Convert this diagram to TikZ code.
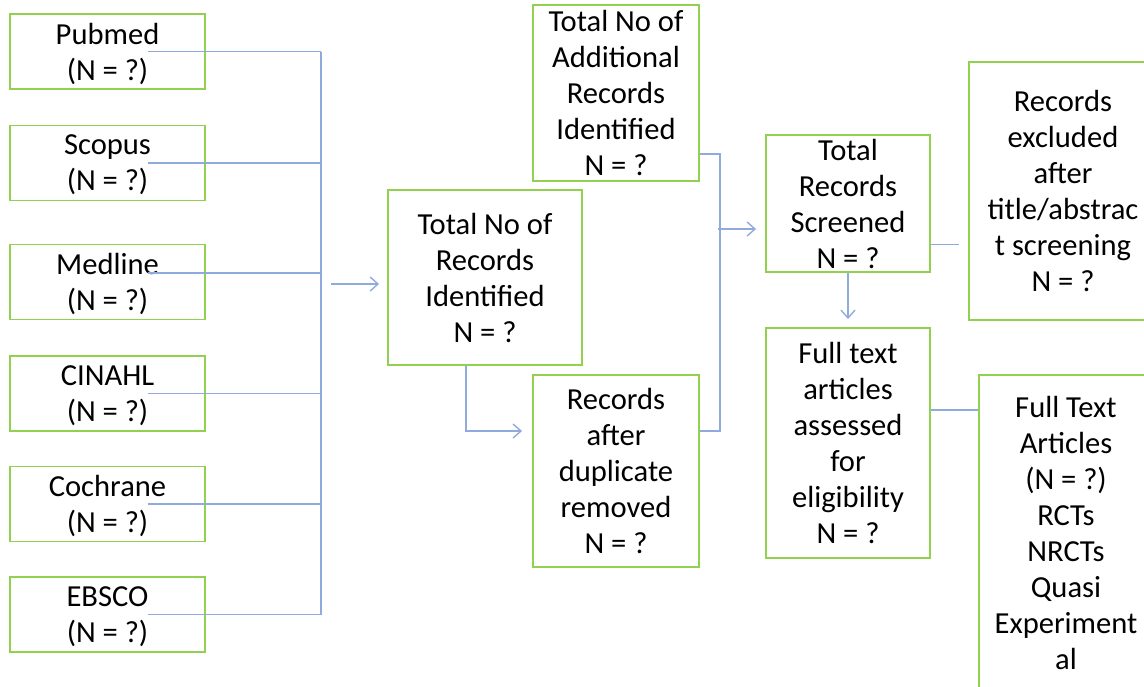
\documentclass[tikz,border=0pt]{standalone}
\usepackage{fontspec}
\setmainfont{Carlito}
\usetikzlibrary{arrows.meta,calc}
\definecolor{boxgreen}{RGB}{146,208,80}
\definecolor{linkblue}{RGB}{143,170,220}
\begin{document}
\begin{tikzpicture}[x=0.02cm, y=-0.02cm,
  box/.style={draw=boxgreen, line width=1.1pt, align=center, inner sep=0pt,
    font=\fontsize{17.4}{20.5}\selectfont, text depth=-4.4pt},
  srcbox/.style={box, minimum width=3.9cm, minimum height=1.5cm, text depth=-0.6pt},
  link/.style={draw=linkblue, line width=0.8pt},
  arrow/.style={link, -{Straight Barb[length=4.5pt,width=8pt]}}]
  \useasboundingbox (0,0) rectangle (1144,687);

  % databases
  \node[srcbox] (pubmed)   at (107.5,51.5)  {Pubmed\\(N = ?)};
  \node[srcbox] (scopus)   at (107.5,163)   {Scopus\\(N = ?)};
  \node[srcbox] (medline)  at (107.5,282)   {Medline\\(N = ?)};
  \node[srcbox] (cinahl)   at (107.5,393.5) {CINAHL\\(N = ?)};
  \node[srcbox] (cochrane) at (107.5,504)   {Cochrane\\(N = ?)};
  \node[srcbox] (ebsco)    at (107.5,614.5) {EBSCO\\(N = ?)};

  % identification
  \node[box, minimum width=3.88cm, minimum height=3.5cm] (total) at (485,277.5)
    {Total No of\\Records\\Identified\\N = ?};
  \node[box, minimum width=3.32cm, minimum height=3.52cm] (addl) at (616,93)
    {Total No of\\Additional\\Records\\Identified\\N = ?};
  \node[box, minimum width=3.32cm, minimum height=3.84cm] (dup) at (616,471)
    {Records\\after\\duplicate\\removed\\N = ?};

  % screening
  \node[box, minimum width=3.28cm, minimum height=2.74cm] (screened) at (848,203.5)
    {Total\\Records\\Screened\\N = ?};
  \node[box, minimum width=3.28cm, minimum height=4.6cm] (fulltext) at (848,443)
    {Full text\\articles\\assessed\\for\\eligibility\\N = ?};
  \node[box, minimum width=3.76cm, minimum height=5.16cm] (excluded) at (1063,191)
    {Records\\excluded\\after\\title/abstrac\\t screening\\N = ?};
  \node[box, minimum width=3.48cm, minimum height=6.32cm] (articles) at (1066,533)
    {Full Text\\Articles\\(N = ?)\\RCTs\\NRCTs\\Quasi\\Experiment\\al};

  % bus from databases
  \coordinate (bus) at (321,0);
  \coordinate (s1) at ($(pubmed.center)+(40,0)$);
  \coordinate (s2) at ($(scopus.center)+(40,0)$);
  \coordinate (s3) at ($(medline.center)+(40,-9)$);
  \coordinate (s4) at ($(cinahl.center)+(40,0)$);
  \coordinate (s5) at ($(cochrane.center)+(40,0)$);
  \coordinate (s6) at ($(ebsco.center)+(40,0)$);
  \draw[link] (s1) -- (s1 -| bus);
  \draw[link] (s2) -- (s2 -| bus);
  \draw[link] (s3) -- (s3 -| bus);
  \draw[link] (s4) -- (s4 -| bus);
  \draw[link] (s5) -- (s5 -| bus);
  \draw[link] (s6) -- (s6 -| bus);
  \draw[link] (s1 -| bus) -- (s6 -| bus);
  \coordinate (busout) at (331,284);
  \draw[arrow, shorten >=0.16cm] (busout) -- (busout -| total.west);

  % duplicates
  \draw[arrow, shorten >=0.2cm] ($(total.south)+(-19,0)$) |- ($(dup.west)+(0,-40)$);

  % merge into screening
  \draw[link] ($(addl.east)+(0,61)$) -- ++(20,0) |- ($(dup.east)+(0,-40)$);
  \coordinate (join) at (718,229);
  \draw[arrow, shorten >=0.18cm] (join) -- (join -| screened.west);
  \draw[arrow, shorten >=0.16cm] (screened.south) -- (fulltext.north);

  % exclusions
  \coordinate (exl) at ($(screened.east)+(0,41)$);
  \draw[link, shorten >=0.18cm] (exl) -- (exl -| excluded.west);
  \coordinate (art) at ($(fulltext.east)+(0,-33)$);
  \draw[link] (art) -- (art -| articles.west);
\end{tikzpicture}
\end{document}
